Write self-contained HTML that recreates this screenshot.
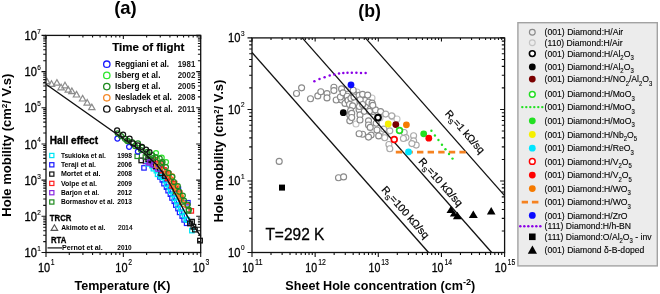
<!DOCTYPE html><html><head><meta charset="utf-8"><style>html,body{margin:0;padding:0;background:#fff;width:660px;height:294px;overflow:hidden}svg text{font-family:"Liberation Sans",sans-serif}</style></head><body><svg width="660" height="294" viewBox="0 0 660 294" style="position:absolute;left:0;top:0;will-change:transform">
<rect width="660" height="294" fill="#fff"/>
<text x="125.50" y="14.00" font-size="18.2" font-weight="bold" text-anchor="middle" textLength="22.6" lengthAdjust="spacingAndGlyphs" fill="#000" >(a)</text>
<text x="369.60" y="17.00" font-size="18.2" font-weight="bold" text-anchor="middle" textLength="22.6" lengthAdjust="spacingAndGlyphs" fill="#000" >(b)</text>
<path d="M46.8 78.1L50.0 83.7L43.6 83.7Z" fill="none" stroke="#8c8c8c" stroke-width="1.2"/>
<path d="M51.5 80.7L54.7 86.3L48.3 86.3Z" fill="none" stroke="#8c8c8c" stroke-width="1.2"/>
<path d="M56.9 79.6L60.1 85.2L53.7 85.2Z" fill="none" stroke="#8c8c8c" stroke-width="1.2"/>
<path d="M61.1 84.2L64.3 89.8L57.9 89.8Z" fill="none" stroke="#8c8c8c" stroke-width="1.2"/>
<path d="M65.0 82.2L68.2 87.8L61.8 87.8Z" fill="none" stroke="#8c8c8c" stroke-width="1.2"/>
<path d="M68.3 86.5L71.5 92.1L65.1 92.1Z" fill="none" stroke="#8c8c8c" stroke-width="1.2"/>
<path d="M71.9 88.0L75.1 93.6L68.7 93.6Z" fill="none" stroke="#8c8c8c" stroke-width="1.2"/>
<path d="M76.5 91.4L79.7 97.0L73.3 97.0Z" fill="none" stroke="#8c8c8c" stroke-width="1.2"/>
<path d="M82.6 95.4L85.8 101.0L79.4 101.0Z" fill="none" stroke="#8c8c8c" stroke-width="1.2"/>
<path d="M87.2 99.5L90.4 105.1L84.0 105.1Z" fill="none" stroke="#8c8c8c" stroke-width="1.2"/>
<path d="M91.8 104.1L95.0 109.7L88.6 109.7Z" fill="none" stroke="#8c8c8c" stroke-width="1.2"/>
<g fill="none" stroke="#1a1aff" stroke-width="1.2"><rect x="141.8" y="165.7" width="4.4" height="4.4"/><rect x="157.7" y="174.7" width="4.4" height="4.4"/><rect x="160.1" y="177.7" width="4.4" height="4.4"/><rect x="161.8" y="181.5" width="4.4" height="4.4"/><rect x="164.3" y="184.9" width="4.4" height="4.4"/><rect x="165.9" y="188.5" width="4.4" height="4.4"/><rect x="168.2" y="192.0" width="4.4" height="4.4"/><rect x="169.8" y="195.8" width="4.4" height="4.4"/><rect x="172.1" y="199.1" width="4.4" height="4.4"/><rect x="173.6" y="202.9" width="4.4" height="4.4"/><rect x="175.8" y="206.4" width="4.4" height="4.4"/><rect x="177.4" y="210.2" width="4.4" height="4.4"/><rect x="180.0" y="213.9" width="4.4" height="4.4"/><rect x="181.9" y="217.7" width="4.4" height="4.4"/><rect x="184.4" y="221.1" width="4.4" height="4.4"/><rect x="176.2" y="186.9" width="4.4" height="4.4"/><rect x="185.7" y="200.5" width="4.4" height="4.4"/></g>
<g fill="none" stroke="#00e5f5" stroke-width="1.3"><rect x="145.9" y="161.6" width="4.4" height="4.4"/><rect x="149.8" y="163.5" width="4.4" height="4.4"/><rect x="151.2" y="166.5" width="4.4" height="4.4"/><rect x="154.2" y="168.5" width="4.4" height="4.4"/><rect x="155.4" y="172.1" width="4.4" height="4.4"/><rect x="158.4" y="174.1" width="4.4" height="4.4"/><rect x="160.6" y="175.2" width="4.4" height="4.4"/><rect x="163.2" y="178.4" width="4.4" height="4.4"/><rect x="164.7" y="182.2" width="4.4" height="4.4"/><rect x="167.2" y="185.3" width="4.4" height="4.4"/><rect x="168.6" y="189.1" width="4.4" height="4.4"/><rect x="171.0" y="192.3" width="4.4" height="4.4"/><rect x="172.4" y="196.1" width="4.4" height="4.4"/><rect x="174.7" y="199.3" width="4.4" height="4.4"/><rect x="176.0" y="203.0" width="4.4" height="4.4"/><rect x="178.4" y="206.3" width="4.4" height="4.4"/><rect x="179.8" y="210.2" width="4.4" height="4.4"/><rect x="182.4" y="213.4" width="4.4" height="4.4"/><rect x="184.1" y="217.2" width="4.4" height="4.4"/><rect x="185.1" y="217.7" width="4.4" height="4.4"/><rect x="189.7" y="228.4" width="4.4" height="4.4"/></g>
<g fill="none" stroke="#8a2be2" stroke-width="1.3"><rect x="143.3" y="159.3" width="4.4" height="4.4"/><rect x="146.8" y="160.8" width="4.4" height="4.4"/><rect x="150.3" y="162.3" width="4.4" height="4.4"/><rect x="153.3" y="164.8" width="4.4" height="4.4"/></g>
<g fill="none" stroke="#111" stroke-width="1.3"><rect x="139.0" y="158.1" width="4.6" height="4.6"/><rect x="148.6" y="158.1" width="4.6" height="4.6"/><rect x="187.7" y="221.1" width="4.6" height="4.6"/><rect x="191.1" y="224.5" width="4.6" height="4.6"/><rect x="197.7" y="238.3" width="4.6" height="4.6"/><rect x="189.7" y="219.4" width="4.6" height="4.6"/><rect x="192.6" y="227.3" width="4.6" height="4.6"/></g>
<g fill="none" stroke="#ff2020" stroke-width="1.3"><rect x="154.5" y="161.0" width="4.4" height="4.4"/><rect x="158.8" y="164.0" width="4.4" height="4.4"/><rect x="160.5" y="168.6" width="4.4" height="4.4"/><rect x="164.5" y="171.7" width="4.4" height="4.4"/><rect x="165.5" y="176.1" width="4.4" height="4.4"/><rect x="168.9" y="179.1" width="4.4" height="4.4"/><rect x="169.9" y="183.6" width="4.4" height="4.4"/><rect x="173.2" y="186.6" width="4.4" height="4.4"/><rect x="171.4" y="184.2" width="4.4" height="4.4"/><rect x="178.2" y="194.4" width="4.4" height="4.4"/><rect x="185.0" y="203.2" width="4.4" height="4.4"/><rect x="189.1" y="208.7" width="4.4" height="4.4"/></g>
<g fill="none" stroke="#1f8a1f" stroke-width="1.2"><rect x="135.0" y="154.1" width="4.4" height="4.4"/><rect x="143.2" y="154.8" width="4.4" height="4.4"/><rect x="173.4" y="189.6" width="4.4" height="4.4"/><rect x="179.6" y="199.8" width="4.4" height="4.4"/><rect x="186.4" y="208.7" width="4.4" height="4.4"/></g>
<g fill="none" stroke="#111" stroke-width="1.2"><rect x="145.9" y="157.1" width="4.4" height="4.4"/><rect x="151.0" y="159.5" width="4.4" height="4.4"/><rect x="153.5" y="164.1" width="4.4" height="4.4"/><rect x="157.5" y="166.7" width="4.4" height="4.4"/><rect x="158.9" y="171.3" width="4.4" height="4.4"/><rect x="162.7" y="173.9" width="4.4" height="4.4"/></g>
<g fill="none" stroke="#ff2020" stroke-width="1.3"><rect x="153.4" y="157.8" width="4.4" height="4.4"/><rect x="159.6" y="162.0" width="4.4" height="4.4"/><rect x="161.8" y="167.7" width="4.4" height="4.4"/><rect x="166.7" y="171.9" width="4.4" height="4.4"/><rect x="168.2" y="177.4" width="4.4" height="4.4"/><rect x="172.4" y="181.4" width="4.4" height="4.4"/><rect x="173.6" y="187.0" width="4.4" height="4.4"/><rect x="177.6" y="191.0" width="4.4" height="4.4"/><rect x="178.7" y="196.6" width="4.4" height="4.4"/></g>
<g fill="none" stroke="#8a2be2" stroke-width="1.3"><rect x="147.8" y="159.8" width="4.4" height="4.4"/><rect x="151.8" y="162.8" width="4.4" height="4.4"/><rect x="155.8" y="166.8" width="4.4" height="4.4"/></g>
<g fill="none" stroke="#f58a2a" stroke-width="1.25"><circle cx="161.2" cy="166.6" r="2.5"/><circle cx="166.8" cy="172.0" r="2.5"/><circle cx="169.7" cy="179.1" r="2.5"/><circle cx="174.4" cy="184.8" r="2.5"/><circle cx="176.7" cy="191.5" r="2.5"/><circle cx="181.1" cy="197.2" r="2.5"/><circle cx="183.3" cy="203.9" r="2.5"/></g>
<g fill="none" stroke="#1a1aff" stroke-width="1.25"><circle cx="117.4" cy="138.6" r="2.5"/><circle cx="129.1" cy="146.8" r="2.5"/><circle cx="137.9" cy="151.6" r="2.5"/></g>
<g fill="none" stroke="#2ee62e" stroke-width="1.25"><circle cx="156.0" cy="153.0" r="2.5"/><circle cx="161.7" cy="157.7" r="2.5"/><circle cx="166.0" cy="162.0" r="2.5"/></g>
<g fill="none" stroke="#f58a2a" stroke-width="1.25"><circle cx="157.0" cy="165.5" r="2.5"/><circle cx="172.0" cy="176.0" r="2.5"/><circle cx="176.3" cy="186.4" r="2.5"/><circle cx="179.7" cy="194.5" r="2.5"/></g>
<g fill="none" stroke="#1f8a1f" stroke-width="1.25"><circle cx="117.7" cy="133.3" r="2.5"/><circle cx="124.9" cy="138.7" r="2.5"/><circle cx="127.0" cy="140.7" r="2.5"/><circle cx="132.0" cy="142.2" r="2.5"/><circle cx="138.0" cy="143.4" r="2.5"/><circle cx="142.1" cy="147.6" r="2.5"/><circle cx="147.4" cy="151.8" r="2.5"/><circle cx="152.2" cy="155.0" r="2.5"/><circle cx="155.6" cy="157.0" r="2.5"/><circle cx="159.7" cy="158.4" r="2.5"/><circle cx="162.5" cy="162.0" r="2.5"/><circle cx="161.3" cy="163.3" r="2.5"/><circle cx="165.9" cy="167.1" r="2.5"/><circle cx="168.5" cy="172.9" r="2.5"/><circle cx="172.4" cy="176.8" r="2.5"/><circle cx="173.9" cy="182.1" r="2.5"/><circle cx="177.8" cy="186.2" r="2.5"/><circle cx="179.1" cy="191.5" r="2.5"/><circle cx="182.8" cy="195.5" r="2.5"/><circle cx="184.0" cy="200.7" r="2.5"/><circle cx="187.6" cy="204.7" r="2.5"/><circle cx="188.8" cy="209.7" r="2.5"/></g>
<g fill="none" stroke="#1f8a1f" stroke-width="1.25"><circle cx="121.0" cy="136.0" r="2.5"/><circle cx="128.0" cy="141.0" r="2.5"/><circle cx="135.0" cy="146.0" r="2.5"/><circle cx="141.0" cy="150.0" r="2.5"/><circle cx="147.0" cy="154.0" r="2.5"/><circle cx="153.0" cy="158.0" r="2.5"/></g>
<g fill="none" stroke="#111" stroke-width="1.25"><circle cx="117.1" cy="130.3" r="2.5"/><circle cx="123.1" cy="134.5" r="2.5"/><circle cx="129.6" cy="138.7" r="2.5"/><circle cx="133.2" cy="143.4" r="2.5"/><circle cx="137.9" cy="145.4" r="2.5"/><circle cx="142.0" cy="146.8" r="2.5"/><circle cx="146.1" cy="149.5" r="2.5"/><circle cx="149.5" cy="152.2" r="2.5"/></g>
<polyline points="46,84.2 145,154 157,165 164.5,175 171,186 177.5,198 184,210.5 191,222 200.8,236.4" fill="none" stroke="#111" stroke-width="1.4"/>
<rect x="46.00" y="35.40" width="154.70" height="217.10" fill="none" stroke="#111" stroke-width="1.3"/>
<path d="M46.00 252.50v4.5 M46.00 35.40v3.5 M69.28 252.50v2.5 M69.28 35.40v2.2 M82.91 252.50v2.5 M82.91 35.40v2.2 M92.57 252.50v2.5 M92.57 35.40v2.2 M100.07 252.50v2.5 M100.07 35.40v2.2 M106.19 252.50v2.5 M106.19 35.40v2.2 M111.37 252.50v2.5 M111.37 35.40v2.2 M115.85 252.50v2.5 M115.85 35.40v2.2 M119.81 252.50v2.5 M119.81 35.40v2.2 M123.35 252.50v4.5 M123.35 35.40v3.5 M146.63 252.50v2.5 M146.63 35.40v2.2 M160.26 252.50v2.5 M160.26 35.40v2.2 M169.92 252.50v2.5 M169.92 35.40v2.2 M177.42 252.50v2.5 M177.42 35.40v2.2 M183.54 252.50v2.5 M183.54 35.40v2.2 M188.72 252.50v2.5 M188.72 35.40v2.2 M193.20 252.50v2.5 M193.20 35.40v2.2 M197.16 252.50v2.5 M197.16 35.40v2.2 M200.70 252.50v4.5 M200.70 35.40v3.5 M46.00 252.50h-4.5 M200.70 252.50h-4.5 M46.00 241.61h-2.8 M200.70 241.61h-2.8 M46.00 235.24h-2.8 M200.70 235.24h-2.8 M46.00 230.72h-2.8 M200.70 230.72h-2.8 M46.00 227.21h-2.8 M200.70 227.21h-2.8 M46.00 224.34h-2.8 M200.70 224.34h-2.8 M46.00 221.92h-2.8 M200.70 221.92h-2.8 M46.00 219.82h-2.8 M200.70 219.82h-2.8 M46.00 217.97h-2.8 M200.70 217.97h-2.8 M46.00 216.32h-4.5 M200.70 216.32h-4.5 M46.00 205.42h-2.8 M200.70 205.42h-2.8 M46.00 199.05h-2.8 M200.70 199.05h-2.8 M46.00 194.53h-2.8 M200.70 194.53h-2.8 M46.00 191.03h-2.8 M200.70 191.03h-2.8 M46.00 188.16h-2.8 M200.70 188.16h-2.8 M46.00 185.74h-2.8 M200.70 185.74h-2.8 M46.00 183.64h-2.8 M200.70 183.64h-2.8 M46.00 181.79h-2.8 M200.70 181.79h-2.8 M46.00 180.13h-4.5 M200.70 180.13h-4.5 M46.00 169.24h-2.8 M200.70 169.24h-2.8 M46.00 162.87h-2.8 M200.70 162.87h-2.8 M46.00 158.35h-2.8 M200.70 158.35h-2.8 M46.00 154.84h-2.8 M200.70 154.84h-2.8 M46.00 151.98h-2.8 M200.70 151.98h-2.8 M46.00 149.55h-2.8 M200.70 149.55h-2.8 M46.00 147.46h-2.8 M200.70 147.46h-2.8 M46.00 145.61h-2.8 M200.70 145.61h-2.8 M46.00 143.95h-4.5 M200.70 143.95h-4.5 M46.00 133.06h-2.8 M200.70 133.06h-2.8 M46.00 126.69h-2.8 M200.70 126.69h-2.8 M46.00 122.17h-2.8 M200.70 122.17h-2.8 M46.00 118.66h-2.8 M200.70 118.66h-2.8 M46.00 115.79h-2.8 M200.70 115.79h-2.8 M46.00 113.37h-2.8 M200.70 113.37h-2.8 M46.00 111.27h-2.8 M200.70 111.27h-2.8 M46.00 109.42h-2.8 M200.70 109.42h-2.8 M46.00 107.77h-4.5 M200.70 107.77h-4.5 M46.00 96.87h-2.8 M200.70 96.87h-2.8 M46.00 90.50h-2.8 M200.70 90.50h-2.8 M46.00 85.98h-2.8 M200.70 85.98h-2.8 M46.00 82.48h-2.8 M200.70 82.48h-2.8 M46.00 79.61h-2.8 M200.70 79.61h-2.8 M46.00 77.19h-2.8 M200.70 77.19h-2.8 M46.00 75.09h-2.8 M200.70 75.09h-2.8 M46.00 73.24h-2.8 M200.70 73.24h-2.8 M46.00 71.58h-4.5 M200.70 71.58h-4.5 M46.00 60.69h-2.8 M200.70 60.69h-2.8 M46.00 54.32h-2.8 M200.70 54.32h-2.8 M46.00 49.80h-2.8 M200.70 49.80h-2.8 M46.00 46.29h-2.8 M200.70 46.29h-2.8 M46.00 43.43h-2.8 M200.70 43.43h-2.8 M46.00 41.00h-2.8 M200.70 41.00h-2.8 M46.00 38.91h-2.8 M200.70 38.91h-2.8 M46.00 37.06h-2.8 M200.70 37.06h-2.8 M46.00 35.40h-4.5 M200.70 35.40h-4.5" stroke="#111" stroke-width="1.1" fill="none"/>
<text x="37.00" y="257.10" font-size="12.6" text-anchor="end" textLength="12.4" lengthAdjust="spacingAndGlyphs" fill="#000" stroke="#000" stroke-width="0.3">10</text>
<text x="37.20" y="250.90" font-size="8.0" text-anchor="start" textLength="3.6" lengthAdjust="spacingAndGlyphs" fill="#000" stroke="#000" stroke-width="0.15">1</text>
<text x="37.00" y="220.92" font-size="12.6" text-anchor="end" textLength="12.4" lengthAdjust="spacingAndGlyphs" fill="#000" stroke="#000" stroke-width="0.3">10</text>
<text x="37.20" y="214.72" font-size="8.0" text-anchor="start" textLength="3.6" lengthAdjust="spacingAndGlyphs" fill="#000" stroke="#000" stroke-width="0.15">2</text>
<text x="37.00" y="184.73" font-size="12.6" text-anchor="end" textLength="12.4" lengthAdjust="spacingAndGlyphs" fill="#000" stroke="#000" stroke-width="0.3">10</text>
<text x="37.20" y="178.53" font-size="8.0" text-anchor="start" textLength="3.6" lengthAdjust="spacingAndGlyphs" fill="#000" stroke="#000" stroke-width="0.15">3</text>
<text x="37.00" y="148.55" font-size="12.6" text-anchor="end" textLength="12.4" lengthAdjust="spacingAndGlyphs" fill="#000" stroke="#000" stroke-width="0.3">10</text>
<text x="37.20" y="142.35" font-size="8.0" text-anchor="start" textLength="3.6" lengthAdjust="spacingAndGlyphs" fill="#000" stroke="#000" stroke-width="0.15">4</text>
<text x="37.00" y="112.37" font-size="12.6" text-anchor="end" textLength="12.4" lengthAdjust="spacingAndGlyphs" fill="#000" stroke="#000" stroke-width="0.3">10</text>
<text x="37.20" y="106.17" font-size="8.0" text-anchor="start" textLength="3.6" lengthAdjust="spacingAndGlyphs" fill="#000" stroke="#000" stroke-width="0.15">5</text>
<text x="37.00" y="76.18" font-size="12.6" text-anchor="end" textLength="12.4" lengthAdjust="spacingAndGlyphs" fill="#000" stroke="#000" stroke-width="0.3">10</text>
<text x="37.20" y="69.98" font-size="8.0" text-anchor="start" textLength="3.6" lengthAdjust="spacingAndGlyphs" fill="#000" stroke="#000" stroke-width="0.15">6</text>
<text x="37.00" y="40.00" font-size="12.6" text-anchor="end" textLength="12.4" lengthAdjust="spacingAndGlyphs" fill="#000" stroke="#000" stroke-width="0.3">10</text>
<text x="37.20" y="33.80" font-size="8.0" text-anchor="start" textLength="3.6" lengthAdjust="spacingAndGlyphs" fill="#000" stroke="#000" stroke-width="0.15">7</text>
<text x="50.20" y="271.60" font-size="12.8" text-anchor="end" textLength="12.2" lengthAdjust="spacingAndGlyphs" fill="#000" stroke="#000" stroke-width="0.3">10</text>
<text x="50.80" y="265.00" font-size="8.3" text-anchor="start" textLength="3.8" lengthAdjust="spacingAndGlyphs" fill="#000" stroke="#000" stroke-width="0.15">1</text>
<text x="127.55" y="271.60" font-size="12.8" text-anchor="end" textLength="12.2" lengthAdjust="spacingAndGlyphs" fill="#000" stroke="#000" stroke-width="0.3">10</text>
<text x="128.15" y="265.00" font-size="8.3" text-anchor="start" textLength="3.8" lengthAdjust="spacingAndGlyphs" fill="#000" stroke="#000" stroke-width="0.15">2</text>
<text x="204.90" y="271.60" font-size="12.8" text-anchor="end" textLength="12.2" lengthAdjust="spacingAndGlyphs" fill="#000" stroke="#000" stroke-width="0.3">10</text>
<text x="205.50" y="265.00" font-size="8.3" text-anchor="start" textLength="3.8" lengthAdjust="spacingAndGlyphs" fill="#000" stroke="#000" stroke-width="0.15">3</text>
<text x="122.50" y="290.00" font-size="12.5" font-weight="bold" text-anchor="middle" textLength="96" lengthAdjust="spacingAndGlyphs" fill="#000" >Temperature (K)</text>
<text transform="translate(11.4,145.2) rotate(-90)" font-size="12" font-weight="bold" text-anchor="middle" textLength="143" lengthAdjust="spacingAndGlyphs">Hole mobility (cm<tspan font-size="7.5" dy="-4">2</tspan><tspan dy="4">/ V.s)</tspan></text>
<text x="112.30" y="51.00" font-size="11.6" font-weight="bold" text-anchor="start" textLength="72" lengthAdjust="spacingAndGlyphs" fill="#000" stroke="#000" stroke-width="0.2">Time of flight</text>
<circle cx="106.8" cy="64.2" r="3.2" fill="none" stroke="#1a1aff" stroke-width="1.3"/>
<text x="115.00" y="66.80" font-size="8.8" font-weight="bold" text-anchor="start" textLength="54" lengthAdjust="spacingAndGlyphs" fill="#000" >Reggiani et al.</text>
<text x="195.30" y="66.80" font-size="8.8" font-weight="bold" text-anchor="end" textLength="17.6" lengthAdjust="spacingAndGlyphs" fill="#222" >1981</text>
<circle cx="106.8" cy="75.4" r="3.2" fill="none" stroke="#2ee62e" stroke-width="1.3"/>
<text x="115.00" y="78.00" font-size="8.8" font-weight="bold" text-anchor="start" textLength="45.4" lengthAdjust="spacingAndGlyphs" fill="#000" >Isberg et al.</text>
<text x="195.30" y="78.00" font-size="8.8" font-weight="bold" text-anchor="end" textLength="17.6" lengthAdjust="spacingAndGlyphs" fill="#222" >2002</text>
<circle cx="106.8" cy="86.6" r="3.2" fill="none" stroke="#1f8a1f" stroke-width="1.3"/>
<text x="115.00" y="89.20" font-size="8.8" font-weight="bold" text-anchor="start" textLength="45.4" lengthAdjust="spacingAndGlyphs" fill="#000" >Isberg et al.</text>
<text x="195.30" y="89.20" font-size="8.8" font-weight="bold" text-anchor="end" textLength="17.6" lengthAdjust="spacingAndGlyphs" fill="#222" >2005</text>
<circle cx="106.8" cy="97.8" r="3.2" fill="none" stroke="#f58a2a" stroke-width="1.3"/>
<text x="115.00" y="100.40" font-size="8.8" font-weight="bold" text-anchor="start" textLength="56.8" lengthAdjust="spacingAndGlyphs" fill="#000" >Nesladek et al.</text>
<text x="195.30" y="100.40" font-size="8.8" font-weight="bold" text-anchor="end" textLength="17.6" lengthAdjust="spacingAndGlyphs" fill="#222" >2008</text>
<circle cx="106.8" cy="109.0" r="3.2" fill="none" stroke="#111" stroke-width="1.3"/>
<text x="115.00" y="111.60" font-size="8.8" font-weight="bold" text-anchor="start" textLength="57.8" lengthAdjust="spacingAndGlyphs" fill="#000" >Gabrysch et al.</text>
<text x="195.30" y="111.60" font-size="8.8" font-weight="bold" text-anchor="end" textLength="17.6" lengthAdjust="spacingAndGlyphs" fill="#222" >2011</text>
<text x="49.80" y="143.60" font-size="10.2" font-weight="bold" text-anchor="start" textLength="48.2" lengthAdjust="spacingAndGlyphs" fill="#000" stroke="#000" stroke-width="0.35">Hall effect</text>
<rect x="49.7" y="153.4" width="4.2" height="4.2" fill="none" stroke="#00e5f5" stroke-width="1.2"/>
<text x="60.90" y="157.70" font-size="6.8" font-weight="bold" text-anchor="start" textLength="44.9" lengthAdjust="spacingAndGlyphs" fill="#000" >Tsukioka et al.</text>
<text x="132.00" y="157.70" font-size="6.8" font-weight="bold" text-anchor="end" textLength="14.8" lengthAdjust="spacingAndGlyphs" fill="#000" >1998</text>
<rect x="49.7" y="162.7" width="4.2" height="4.2" fill="none" stroke="#1a1aff" stroke-width="1.2"/>
<text x="60.90" y="167.00" font-size="6.8" font-weight="bold" text-anchor="start" textLength="35.1" lengthAdjust="spacingAndGlyphs" fill="#000" >Teraji et al.</text>
<text x="132.00" y="167.00" font-size="6.8" font-weight="bold" text-anchor="end" textLength="14.8" lengthAdjust="spacingAndGlyphs" fill="#000" >2006</text>
<rect x="49.7" y="172.0" width="4.2" height="4.2" fill="none" stroke="#111" stroke-width="1.2"/>
<text x="60.90" y="176.30" font-size="6.8" font-weight="bold" text-anchor="start" textLength="39.6" lengthAdjust="spacingAndGlyphs" fill="#000" >Mortet et al.</text>
<text x="132.00" y="176.30" font-size="6.8" font-weight="bold" text-anchor="end" textLength="14.8" lengthAdjust="spacingAndGlyphs" fill="#000" >2008</text>
<rect x="49.7" y="181.3" width="4.2" height="4.2" fill="none" stroke="#ff2020" stroke-width="1.2"/>
<text x="60.90" y="185.60" font-size="6.8" font-weight="bold" text-anchor="start" textLength="36.1" lengthAdjust="spacingAndGlyphs" fill="#000" >Volpe et al.</text>
<text x="132.00" y="185.60" font-size="6.8" font-weight="bold" text-anchor="end" textLength="14.8" lengthAdjust="spacingAndGlyphs" fill="#000" >2009</text>
<rect x="49.7" y="190.6" width="4.2" height="4.2" fill="none" stroke="#8a2be2" stroke-width="1.2"/>
<text x="60.90" y="194.90" font-size="6.8" font-weight="bold" text-anchor="start" textLength="38.2" lengthAdjust="spacingAndGlyphs" fill="#000" >Barjon et al.</text>
<text x="132.00" y="194.90" font-size="6.8" font-weight="bold" text-anchor="end" textLength="14.8" lengthAdjust="spacingAndGlyphs" fill="#000" >2012</text>
<rect x="49.7" y="199.9" width="4.2" height="4.2" fill="none" stroke="#1f8a1f" stroke-width="1.2"/>
<text x="60.90" y="204.20" font-size="6.8" font-weight="bold" text-anchor="start" textLength="53.5" lengthAdjust="spacingAndGlyphs" fill="#000" >Bormashov et al.</text>
<text x="132.00" y="204.20" font-size="6.8" font-weight="bold" text-anchor="end" textLength="14.8" lengthAdjust="spacingAndGlyphs" fill="#000" >2013</text>
<text x="49.80" y="220.60" font-size="8.7" font-weight="bold" text-anchor="start" textLength="21.6" lengthAdjust="spacingAndGlyphs" fill="#000" stroke="#000" stroke-width="0.3">TRCR</text>
<path d="M54.4 224.8L57.7 230.4L51.1 230.4Z" fill="none" stroke="#555" stroke-width="1.1"/>
<text x="61.20" y="230.20" font-size="6.8" font-weight="bold" text-anchor="start" textLength="44.2" lengthAdjust="spacingAndGlyphs" fill="#000" >Akimoto et al.</text>
<text x="132.60" y="230.20" font-size="7.2" text-anchor="end" textLength="14.6" lengthAdjust="spacingAndGlyphs" fill="#000" stroke="#000" stroke-width="0.2">2014</text>
<text x="51.00" y="242.80" font-size="8.7" font-weight="bold" text-anchor="start" textLength="15.3" lengthAdjust="spacingAndGlyphs" fill="#000" stroke="#000" stroke-width="0.3">RTA</text>
<path d="M47.5 247.9H62" stroke="#333" stroke-width="1.4"/>
<text x="62.00" y="249.60" font-size="6.8" font-weight="bold" text-anchor="start" textLength="40.8" lengthAdjust="spacingAndGlyphs" fill="#000" >Pernot  et al.</text>
<text x="131.70" y="249.60" font-size="6.8" font-weight="bold" text-anchor="end" textLength="14.4" lengthAdjust="spacingAndGlyphs" fill="#000" >2010</text>
<text transform="translate(444.4,113.9) rotate(48.56)" font-size="10.5" stroke="#000" stroke-width="0.2" textLength="53.8" lengthAdjust="spacingAndGlyphs">R<tspan font-size="7" dy="2.8">S</tspan><tspan dy="-2.8">=1 kΩ/sq</tspan></text>
<text transform="translate(418.0,161.8) rotate(48.56)" font-size="10.5" stroke="#000" stroke-width="0.2" textLength="60.5" lengthAdjust="spacingAndGlyphs">R<tspan font-size="7" dy="2.8">S</tspan><tspan dy="-2.8">=10 kΩ/sq</tspan></text>
<text transform="translate(381.0,189.9) rotate(48.56)" font-size="10.5" stroke="#000" stroke-width="0.2" textLength="66" lengthAdjust="spacingAndGlyphs">R<tspan font-size="7" dy="2.8">S</tspan><tspan dy="-2.8">=100 kΩ/sq</tspan></text>
<g fill="#fff" stroke="#c4c4c4" stroke-width="1.15"><circle cx="392.5" cy="116.7" r="3.0"/><circle cx="357.0" cy="92.0" r="3.0"/><circle cx="346.0" cy="90.0" r="3.0"/><circle cx="372.0" cy="98.0" r="3.0"/><circle cx="380.0" cy="118.0" r="3.0"/><circle cx="397.0" cy="119.0" r="3.0"/><circle cx="356.0" cy="124.0" r="3.0"/></g>
<g fill="#fff" stroke="#8a8a8a" stroke-width="1.15"><circle cx="279.2" cy="161.4" r="3.0"/><circle cx="338.5" cy="177.7" r="3.0"/><circle cx="343.6" cy="176.9" r="3.0"/><circle cx="296.5" cy="93.5" r="3.0"/><circle cx="301.6" cy="87.8" r="3.0"/><circle cx="310.5" cy="98.7" r="3.0"/><circle cx="317.8" cy="95.9" r="3.0"/><circle cx="320.8" cy="91.7" r="3.0"/><circle cx="327.0" cy="93.6" r="3.0"/><circle cx="327.0" cy="97.9" r="3.0"/><circle cx="333.9" cy="87.2" r="3.0"/><circle cx="333.9" cy="90.6" r="3.0"/><circle cx="336.2" cy="100.0" r="3.0"/><circle cx="341.6" cy="88.9" r="3.0"/><circle cx="341.6" cy="100.0" r="3.0"/><circle cx="340.4" cy="97.0" r="3.0"/><circle cx="343.0" cy="92.8" r="3.0"/><circle cx="345.0" cy="103.4" r="3.0"/><circle cx="348.4" cy="94.0" r="3.0"/><circle cx="347.2" cy="96.2" r="3.0"/><circle cx="348.0" cy="100.4" r="3.0"/><circle cx="349.5" cy="104.5" r="3.0"/><circle cx="350.9" cy="98.3" r="3.0"/><circle cx="352.6" cy="105.9" r="3.0"/><circle cx="353.5" cy="93.2" r="3.0"/><circle cx="353.2" cy="90.2" r="3.0"/><circle cx="354.0" cy="97.0" r="3.0"/><circle cx="350.6" cy="110.6" r="3.0"/><circle cx="349.8" cy="114.9" r="3.0"/><circle cx="349.8" cy="120.8" r="3.0"/><circle cx="359.1" cy="95.3" r="3.0"/><circle cx="360.0" cy="102.1" r="3.0"/><circle cx="359.1" cy="109.8" r="3.0"/><circle cx="360.0" cy="114.9" r="3.0"/><circle cx="360.0" cy="120.0" r="3.0"/><circle cx="364.2" cy="97.0" r="3.0"/><circle cx="365.0" cy="100.4" r="3.0"/><circle cx="365.9" cy="107.2" r="3.0"/><circle cx="368.5" cy="120.8" r="3.0"/><circle cx="368.5" cy="125.0" r="3.0"/><circle cx="368.7" cy="102.2" r="3.0"/><circle cx="372.1" cy="103.1" r="3.0"/><circle cx="360.2" cy="99.7" r="3.0"/><circle cx="359.4" cy="106.5" r="3.0"/><circle cx="351.7" cy="113.3" r="3.0"/><circle cx="351.7" cy="117.5" r="3.0"/><circle cx="370.4" cy="109.0" r="3.0"/><circle cx="373.0" cy="111.6" r="3.0"/><circle cx="375.5" cy="109.9" r="3.0"/><circle cx="380.6" cy="111.6" r="3.0"/><circle cx="362.6" cy="94.3" r="3.0"/><circle cx="367.7" cy="95.1" r="3.0"/><circle cx="372.8" cy="105.3" r="3.0"/><circle cx="362.6" cy="104.5" r="3.0"/><circle cx="364.3" cy="111.3" r="3.0"/><circle cx="369.4" cy="111.3" r="3.0"/><circle cx="376.2" cy="123.2" r="3.0"/><circle cx="370.2" cy="127.4" r="3.0"/><circle cx="377.0" cy="130.0" r="3.0"/><circle cx="371.1" cy="135.1" r="3.0"/><circle cx="378.7" cy="135.9" r="3.0"/><circle cx="362.6" cy="134.2" r="3.0"/><circle cx="359.1" cy="133.7" r="3.0"/><circle cx="368.5" cy="137.1" r="3.0"/></g>
<g fill="#fff" stroke="#a8a8a8" stroke-width="1.15"><circle cx="385.7" cy="114.1" r="3.0"/><circle cx="391.7" cy="115.8" r="3.0"/><circle cx="383.8" cy="129.1" r="3.0"/><circle cx="389.8" cy="130.8" r="3.0"/><circle cx="385.5" cy="135.1" r="3.0"/><circle cx="404.2" cy="132.5" r="3.0"/><circle cx="405.9" cy="137.6" r="3.0"/><circle cx="384.7" cy="137.7" r="3.0"/><circle cx="388.9" cy="144.5" r="3.0"/><circle cx="389.8" cy="148.7" r="3.0"/><circle cx="403.4" cy="138.5" r="3.0"/><circle cx="413.6" cy="135.7" r="3.0"/><circle cx="413.6" cy="140.8" r="3.0"/><circle cx="416.2" cy="145.1" r="3.0"/><circle cx="411.9" cy="143.6" r="3.0"/></g>
<path d="M252.00 52.54L428.53 252.50" stroke="#111" stroke-width="1.3"/>
<path d="M302.23 37.90L491.68 252.50" stroke="#111" stroke-width="1.3"/>
<path d="M365.38 37.90L504.60 195.61" stroke="#111" stroke-width="1.3"/>
<circle cx="351.0" cy="84.8" r="3.4" fill="#0a0aff" stroke="none" stroke-width="1.2"/>
<circle cx="343.3" cy="112.7" r="3.4" fill="#000" stroke="none" stroke-width="1.2"/>
<circle cx="378.0" cy="117.6" r="2.9" fill="#fff" stroke="#000" stroke-width="2.0"/>
<circle cx="388.2" cy="124.0" r="3.4" fill="#f5f000" stroke="none" stroke-width="1.2"/>
<circle cx="395.8" cy="124.6" r="3.4" fill="#7a0000" stroke="none" stroke-width="1.2"/>
<circle cx="406.4" cy="124.8" r="3.4" fill="#f57a00" stroke="none" stroke-width="1.2"/>
<circle cx="399.5" cy="130.5" r="2.9" fill="#fff" stroke="#22dd22" stroke-width="1.7"/>
<circle cx="394.2" cy="139.5" r="2.9" fill="#fff" stroke="#ff0000" stroke-width="1.7"/>
<circle cx="423.7" cy="133.8" r="3.4" fill="#22e022" stroke="none" stroke-width="1.2"/>
<circle cx="428.8" cy="138.2" r="3.4" fill="#ff0000" stroke="none" stroke-width="1.2"/>
<path d="M395.8 152.1H466" stroke="#f58220" stroke-width="2.6" stroke-dasharray="6.4 4.2"/>
<circle cx="408.5" cy="151.9" r="3.4" fill="#00e5ff" stroke="none" stroke-width="1.2"/>
<g fill="#22e022"><circle cx="431.40" cy="130.80" r="1.2"/><circle cx="434.92" cy="135.43" r="1.2"/><circle cx="438.44" cy="140.06" r="1.2"/><circle cx="441.96" cy="144.69" r="1.2"/><circle cx="445.48" cy="149.32" r="1.2"/><circle cx="449.00" cy="153.95" r="1.2"/><circle cx="452.52" cy="158.58" r="1.2"/></g>
<g fill="#8a00e6"><circle cx="314.4" cy="81.3" r="1.25"/><circle cx="319.5" cy="79" r="1.25"/><circle cx="324.6" cy="77.3" r="1.25"/><circle cx="329.7" cy="75.6" r="1.25"/><circle cx="334.3" cy="74.5" r="1.25"/><circle cx="339" cy="73.6" r="1.25"/><circle cx="343.3" cy="73.1" r="1.25"/><circle cx="347.5" cy="72.8" r="1.25"/><circle cx="351.8" cy="72.8" r="1.25"/><circle cx="356.4" cy="72.8" r="1.25"/><circle cx="361" cy="72.9" r="1.25"/><circle cx="365.6" cy="73" r="1.25"/></g>
<rect x="279" y="184.6" width="6" height="6" fill="#000"/>
<path d="M450.9 206L455.2 213.1L446.5 213.1Z" fill="#000"/>
<path d="M453.8 210.4L457.7 216.5L449.8 216.5Z" fill="#000"/>
<path d="M457.4 211.8L461.8 219.2L452.9 219.2Z" fill="#000"/>
<path d="M473.3 210.4L477.8 217.9L468.8 217.9Z" fill="#000"/>
<path d="M491.2 207L495.5 214.5L486.9 214.5Z" fill="#000"/>
<rect x="252.00" y="37.90" width="252.60" height="214.60" fill="none" stroke="#111" stroke-width="1.3"/>
<path d="M252.00 252.50v4.5 M252.00 37.90v3.5 M271.01 252.50v2.5 M271.01 37.90v2.2 M282.13 252.50v2.5 M282.13 37.90v2.2 M290.02 252.50v2.5 M290.02 37.90v2.2 M296.14 252.50v2.5 M296.14 37.90v2.2 M301.14 252.50v2.5 M301.14 37.90v2.2 M305.37 252.50v2.5 M305.37 37.90v2.2 M309.03 252.50v2.5 M309.03 37.90v2.2 M312.26 252.50v2.5 M312.26 37.90v2.2 M315.15 252.50v4.5 M315.15 37.90v3.5 M334.16 252.50v2.5 M334.16 37.90v2.2 M345.28 252.50v2.5 M345.28 37.90v2.2 M353.17 252.50v2.5 M353.17 37.90v2.2 M359.29 252.50v2.5 M359.29 37.90v2.2 M364.29 252.50v2.5 M364.29 37.90v2.2 M368.52 252.50v2.5 M368.52 37.90v2.2 M372.18 252.50v2.5 M372.18 37.90v2.2 M375.41 252.50v2.5 M375.41 37.90v2.2 M378.30 252.50v4.5 M378.30 37.90v3.5 M397.31 252.50v2.5 M397.31 37.90v2.2 M408.43 252.50v2.5 M408.43 37.90v2.2 M416.32 252.50v2.5 M416.32 37.90v2.2 M422.44 252.50v2.5 M422.44 37.90v2.2 M427.44 252.50v2.5 M427.44 37.90v2.2 M431.67 252.50v2.5 M431.67 37.90v2.2 M435.33 252.50v2.5 M435.33 37.90v2.2 M438.56 252.50v2.5 M438.56 37.90v2.2 M441.45 252.50v4.5 M441.45 37.90v3.5 M460.46 252.50v2.5 M460.46 37.90v2.2 M471.58 252.50v2.5 M471.58 37.90v2.2 M479.47 252.50v2.5 M479.47 37.90v2.2 M485.59 252.50v2.5 M485.59 37.90v2.2 M490.59 252.50v2.5 M490.59 37.90v2.2 M494.82 252.50v2.5 M494.82 37.90v2.2 M498.48 252.50v2.5 M498.48 37.90v2.2 M501.71 252.50v2.5 M501.71 37.90v2.2 M504.60 252.50v4.5 M504.60 37.90v3.5 M252.00 252.50h-4.5 M504.60 252.50h-4.5 M252.00 230.97h-2.8 M504.60 230.97h-2.8 M252.00 218.37h-2.8 M504.60 218.37h-2.8 M252.00 209.43h-2.8 M504.60 209.43h-2.8 M252.00 202.50h-2.8 M504.60 202.50h-2.8 M252.00 196.84h-2.8 M504.60 196.84h-2.8 M252.00 192.05h-2.8 M504.60 192.05h-2.8 M252.00 187.90h-2.8 M504.60 187.90h-2.8 M252.00 184.24h-2.8 M504.60 184.24h-2.8 M252.00 180.97h-4.5 M504.60 180.97h-4.5 M252.00 159.43h-2.8 M504.60 159.43h-2.8 M252.00 146.84h-2.8 M504.60 146.84h-2.8 M252.00 137.90h-2.8 M504.60 137.90h-2.8 M252.00 130.97h-2.8 M504.60 130.97h-2.8 M252.00 125.30h-2.8 M504.60 125.30h-2.8 M252.00 120.51h-2.8 M504.60 120.51h-2.8 M252.00 116.37h-2.8 M504.60 116.37h-2.8 M252.00 112.71h-2.8 M504.60 112.71h-2.8 M252.00 109.43h-4.5 M504.60 109.43h-4.5 M252.00 87.90h-2.8 M504.60 87.90h-2.8 M252.00 75.30h-2.8 M504.60 75.30h-2.8 M252.00 66.37h-2.8 M504.60 66.37h-2.8 M252.00 59.43h-2.8 M504.60 59.43h-2.8 M252.00 53.77h-2.8 M504.60 53.77h-2.8 M252.00 48.98h-2.8 M504.60 48.98h-2.8 M252.00 44.83h-2.8 M504.60 44.83h-2.8 M252.00 41.17h-2.8 M504.60 41.17h-2.8 M252.00 37.90h-4.5 M504.60 37.90h-4.5" stroke="#111" stroke-width="1.1" fill="none"/>
<text x="240.50" y="256.90" font-size="12.3" text-anchor="end" textLength="12.4" lengthAdjust="spacingAndGlyphs" fill="#000" stroke="#000" stroke-width="0.3">10</text>
<text x="241.00" y="250.20" font-size="7.4" text-anchor="start" textLength="3.6" lengthAdjust="spacingAndGlyphs" fill="#000" stroke="#000" stroke-width="0.15">0</text>
<text x="240.50" y="185.37" font-size="12.3" text-anchor="end" textLength="12.4" lengthAdjust="spacingAndGlyphs" fill="#000" stroke="#000" stroke-width="0.3">10</text>
<text x="241.00" y="178.67" font-size="7.4" text-anchor="start" textLength="3.6" lengthAdjust="spacingAndGlyphs" fill="#000" stroke="#000" stroke-width="0.15">1</text>
<text x="240.50" y="113.83" font-size="12.3" text-anchor="end" textLength="12.4" lengthAdjust="spacingAndGlyphs" fill="#000" stroke="#000" stroke-width="0.3">10</text>
<text x="241.00" y="107.13" font-size="7.4" text-anchor="start" textLength="3.6" lengthAdjust="spacingAndGlyphs" fill="#000" stroke="#000" stroke-width="0.15">2</text>
<text x="240.50" y="42.30" font-size="12.3" text-anchor="end" textLength="12.4" lengthAdjust="spacingAndGlyphs" fill="#000" stroke="#000" stroke-width="0.3">10</text>
<text x="241.00" y="35.60" font-size="7.4" text-anchor="start" textLength="3.6" lengthAdjust="spacingAndGlyphs" fill="#000" stroke="#000" stroke-width="0.15">3</text>
<text x="254.00" y="271.70" font-size="12.3" text-anchor="end" textLength="11.8" lengthAdjust="spacingAndGlyphs" fill="#000" stroke="#000" stroke-width="0.3">10</text>
<text x="255.00" y="265.40" font-size="8.2" text-anchor="start" textLength="7.6" lengthAdjust="spacingAndGlyphs" fill="#000" stroke="#000" stroke-width="0.15">11</text>
<text x="317.15" y="271.70" font-size="12.3" text-anchor="end" textLength="11.8" lengthAdjust="spacingAndGlyphs" fill="#000" stroke="#000" stroke-width="0.3">10</text>
<text x="318.15" y="265.40" font-size="8.2" text-anchor="start" textLength="7.6" lengthAdjust="spacingAndGlyphs" fill="#000" stroke="#000" stroke-width="0.15">12</text>
<text x="380.30" y="271.70" font-size="12.3" text-anchor="end" textLength="11.8" lengthAdjust="spacingAndGlyphs" fill="#000" stroke="#000" stroke-width="0.3">10</text>
<text x="381.30" y="265.40" font-size="8.2" text-anchor="start" textLength="7.6" lengthAdjust="spacingAndGlyphs" fill="#000" stroke="#000" stroke-width="0.15">13</text>
<text x="443.45" y="271.70" font-size="12.3" text-anchor="end" textLength="11.8" lengthAdjust="spacingAndGlyphs" fill="#000" stroke="#000" stroke-width="0.3">10</text>
<text x="444.45" y="265.40" font-size="8.2" text-anchor="start" textLength="7.6" lengthAdjust="spacingAndGlyphs" fill="#000" stroke="#000" stroke-width="0.15">14</text>
<text x="506.60" y="271.70" font-size="12.3" text-anchor="end" textLength="11.8" lengthAdjust="spacingAndGlyphs" fill="#000" stroke="#000" stroke-width="0.3">10</text>
<text x="507.60" y="265.40" font-size="8.2" text-anchor="start" textLength="7.6" lengthAdjust="spacingAndGlyphs" fill="#000" stroke="#000" stroke-width="0.15">15</text>
<text x="380.30" y="289.50" font-size="12.4" font-weight="bold" text-anchor="middle" textLength="190.0" lengthAdjust="spacingAndGlyphs" fill="#000" >Sheet Hole concentration (cm<tspan font-size="9" dy="-5">-2</tspan><tspan dy="5">)</tspan></text>
<text transform="translate(223.2,151.1) rotate(-90)" font-size="12.8" font-weight="bold" text-anchor="middle" textLength="143" lengthAdjust="spacingAndGlyphs">Hole mobility (cm<tspan font-size="7.5" dy="-4">2</tspan><tspan dy="4">/ V.s)</tspan></text>
<text x="265.40" y="240.40" font-size="16.5" text-anchor="start" textLength="59.0" lengthAdjust="spacingAndGlyphs" fill="#000" stroke="#000" stroke-width="0.3">T=292 K</text>
<rect x="517.9" y="22.7" width="139.4" height="243.2" fill="#ececec" stroke="#a2a2a2" stroke-width="1.4"/>
<circle cx="532.3" cy="32.2" r="2.9" fill="none" stroke="#8a8a8a" stroke-width="1.15"/>
<text transform="translate(544.6,35.3) scale(0.94,1)" font-size="9.2" fill="#000" stroke="#000" stroke-width="0.12">(001) Diamond:H/Air</text>
<circle cx="532.3" cy="42.8" r="2.9" fill="none" stroke="#c4c4c4" stroke-width="1.15"/>
<text transform="translate(544.6,45.9) scale(0.94,1)" font-size="9.2" fill="#000" stroke="#000" stroke-width="0.12">(110) Diamond:H/Air</text>
<circle cx="532.3" cy="53.6" r="2.9" fill="#fff" stroke="#000" stroke-width="1.6"/>
<text transform="translate(544.6,56.7) scale(0.94,1)" font-size="9.2" fill="#000" stroke="#000" stroke-width="0.12">(001) Diamond:H/Al<tspan font-size="6.3" dy="3.3">2</tspan><tspan dy="-3.3">O</tspan><tspan font-size="6.3" dy="3.3">3</tspan></text>
<circle cx="532.3" cy="66.9" r="3.4" fill="#000" stroke="none" stroke-width="1.2"/>
<text transform="translate(544.6,70.0) scale(0.94,1)" font-size="9.2" fill="#000" stroke="#000" stroke-width="0.12">(001) Diamond:H/Al<tspan font-size="6.3" dy="3.3">2</tspan><tspan dy="-3.3">O</tspan><tspan font-size="6.3" dy="3.3">3</tspan></text>
<circle cx="532.3" cy="79.1" r="3.4" fill="#7a0000" stroke="none" stroke-width="1.2"/>
<text transform="translate(544.6,82.2) scale(0.94,1)" font-size="9.2" fill="#000" stroke="#000" stroke-width="0.12">(001) Diamond:H/NO<tspan font-size="6.3" dy="3.3">2</tspan><tspan dy="-3.3">/Al</tspan><tspan font-size="6.3" dy="3.3">2</tspan><tspan dy="-3.3">O</tspan><tspan font-size="6.3" dy="3.3">3</tspan></text>
<circle cx="532.3" cy="94.3" r="2.9" fill="#fff" stroke="#22dd22" stroke-width="1.45"/>
<text transform="translate(544.6,97.4) scale(0.94,1)" font-size="9.2" fill="#000" stroke="#000" stroke-width="0.12">(001) Diamond:H/MoO<tspan font-size="6.3" dy="3.3">3</tspan></text>
<g fill="#22e022"><circle cx="522.3" cy="107.1" r="1.2"/><circle cx="526.3" cy="107.1" r="1.2"/><circle cx="530.3" cy="107.1" r="1.2"/><circle cx="534.3" cy="107.1" r="1.2"/><circle cx="538.3" cy="107.1" r="1.2"/><circle cx="542.3" cy="107.1" r="1.2"/></g>
<text transform="translate(544.6,110.2) scale(0.94,1)" font-size="9.2" fill="#000" stroke="#000" stroke-width="0.12">(001) Diamond:H/MoO<tspan font-size="6.3" dy="3.3">3</tspan></text>
<circle cx="532.3" cy="120.8" r="3.4" fill="#22e022" stroke="none" stroke-width="1.2"/>
<text transform="translate(544.6,123.9) scale(0.94,1)" font-size="9.2" fill="#000" stroke="#000" stroke-width="0.12">(001) Diamond:H/MoO<tspan font-size="6.3" dy="3.3">3</tspan></text>
<circle cx="532.3" cy="134.5" r="3.4" fill="#f5f000" stroke="none" stroke-width="1.2"/>
<text transform="translate(544.6,137.6) scale(0.94,1)" font-size="9.2" fill="#000" stroke="#000" stroke-width="0.12">(001) Diamond:H/Nb<tspan font-size="6.3" dy="3.3">2</tspan><tspan dy="-3.3">O</tspan><tspan font-size="6.3" dy="3.3">5</tspan></text>
<circle cx="532.3" cy="148.2" r="3.4" fill="#00e5ff" stroke="none" stroke-width="1.2"/>
<text transform="translate(544.6,151.3) scale(0.94,1)" font-size="9.2" fill="#000" stroke="#000" stroke-width="0.12">(001) Diamond:H/ReO<tspan font-size="6.3" dy="3.3">3</tspan></text>
<circle cx="532.3" cy="161.4" r="2.9" fill="#fff" stroke="#ff0000" stroke-width="1.45"/>
<text transform="translate(544.6,164.5) scale(0.94,1)" font-size="9.2" fill="#000" stroke="#000" stroke-width="0.12">(001) Diamond:H/V<tspan font-size="6.3" dy="3.3">2</tspan><tspan dy="-3.3">O</tspan><tspan font-size="6.3" dy="3.3">5</tspan></text>
<circle cx="532.3" cy="175.1" r="3.4" fill="#ff0000" stroke="none" stroke-width="1.2"/>
<text transform="translate(544.6,178.2) scale(0.94,1)" font-size="9.2" fill="#000" stroke="#000" stroke-width="0.12">(001) Diamond:H/V<tspan font-size="6.3" dy="3.3">2</tspan><tspan dy="-3.3">O</tspan><tspan font-size="6.3" dy="3.3">5</tspan></text>
<circle cx="532.3" cy="188.6" r="3.4" fill="#f57a00" stroke="none" stroke-width="1.2"/>
<text transform="translate(544.6,191.7) scale(0.94,1)" font-size="9.2" fill="#000" stroke="#000" stroke-width="0.12">(001) Diamond:H/WO<tspan font-size="6.3" dy="3.3">3</tspan></text>
<path d="M521.7 202.1H528M531.9 202.1H538.4" stroke="#f58220" stroke-width="2.6"/>
<text transform="translate(544.6,205.2) scale(0.94,1)" font-size="9.2" fill="#000" stroke="#000" stroke-width="0.12">(001) Diamond:H/WO<tspan font-size="6.3" dy="3.3">3</tspan></text>
<circle cx="532.3" cy="215.4" r="3.4" fill="#0a0aff" stroke="none" stroke-width="1.2"/>
<text transform="translate(544.6,218.5) scale(0.94,1)" font-size="9.2" fill="#000" stroke="#000" stroke-width="0.12">(001) Diamond:H/ZrO</text>
<g fill="#8a00e6"><circle cx="520.3" cy="226.2" r="1.25"/><circle cx="524.3" cy="226.2" r="1.25"/><circle cx="528.3" cy="226.2" r="1.25"/><circle cx="532.3" cy="226.2" r="1.25"/><circle cx="536.3" cy="226.2" r="1.25"/><circle cx="540.3" cy="226.2" r="1.25"/></g>
<text transform="translate(544.6,229.3) scale(0.94,1)" font-size="9.2" fill="#000" stroke="#000" stroke-width="0.12">(111) Diamond:H/h-BN</text>
<rect x="529.0" y="233.5" width="6.6" height="6.6" fill="#000"/>
<text transform="translate(544.6,239.9) scale(0.94,1)" font-size="9.2" fill="#000" stroke="#000" stroke-width="0.12">(111) Diamond:O/Al<tspan font-size="6.3" dy="3.3">2</tspan><tspan dy="-3.3">O</tspan><tspan font-size="6.3" dy="3.3">3</tspan><tspan dy="-3.3"> - inv</tspan></text>
<path d="M532.4 245.6L537.0 253.7L527.8 253.7Z" fill="#000"/>
<text transform="translate(544.6,252.6) scale(0.94,1)" font-size="9.2" fill="#000" stroke="#000" stroke-width="0.12">(001) Diamond δ-B-doped</text>
</svg></body></html>
